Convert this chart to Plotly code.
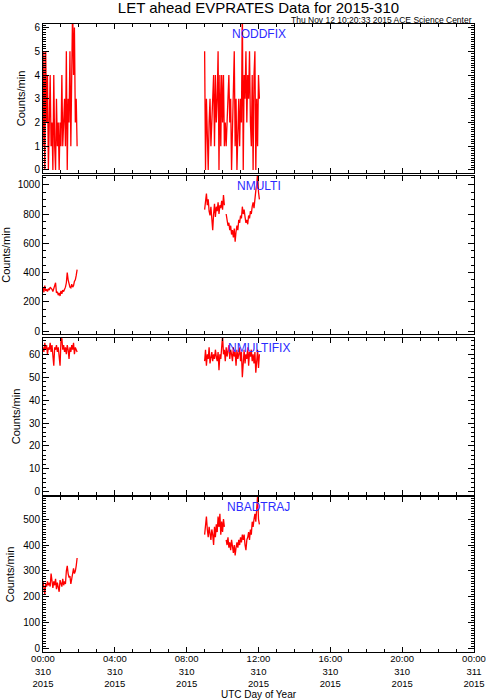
"""LET ahead EVPRATES, jour 2015-310 : quatre panneaux de taux (Counts/min)."""

import pandas as pd
import plotly.graph_objects as go

# ---------------------------------------------------------------------------
# Données (lues sur la figure, pas de 3 minutes)
# ---------------------------------------------------------------------------

SEG1_START = "2015-11-06 00:00"   # jour 310
SEG2_START = "2015-11-06 09:00"
STEP = "3min"

NODDFIX_1 = [1, 5, 0, 5, 2, 4, 0, 3, 4, 1, 2, 0, 4, 1, 0, 3, 1, 2, 0, 2,
             1, 4, 1, 2, 3, 1, 5, 0, 3, 2, 5, 1, 4, 7, 4, 6, 2, 3, 1]
NODDFIX_2 = [5, 0, 3, 1, 0, 2, 3, 1, 2, 3, 4, 1, 4, 2, 3, 5, 0, 4, 1, 4,
             2, 4, 1, 2, 1, 2, 3, 4, 2, 3, 0, 2, 3, 5, 1, 3, 0, 2, 3, 1,
             3, 2, 7, 0, 4, 3, 5, 2, 4, 3, 5, 2, 1, 4, 0, 4, 5, 0, 3, 1,
             4, 3]

NMULTI_1 = [300, 265, 310, 275, 285, 270, 290, 280, 300, 295, 285, 270, 290,
            300, 330, 260, 270, 245, 260, 240, 275, 255, 280, 270, 285, 300,
            330, 400, 350, 310, 300, 295, 320, 300, 310, 340, 350, 380, 420]
NMULTI_2 = [830, 880, 940, 860, 900, 820, 790, 850, 760, 690, 800, 870, 780,
            850, 820, 880, 800, 860, 840, 890, 830, 930, 860, None, 800, 760,
            720, 740, 690, 720, 660, 690, 640, 700, 610, 680, 720, 690, 760,
            740, 790, 770, 850, 800, 830, 780, 740, 760, 730, 790, 770, 820,
            800, 850, 880, 840, 920, 960, 1000, 1080, 950, 900]

NMULTIFIX_1 = [63, 61, 65, 62, 64, 60, 63, 62, 65, 61, 64, 58, 55, 63, 62,
               64, 61, 63, 60, 55, 66, 67, 62, 64, 61, 63, 60, 64, 62, 58,
               63, 61, 64, 62, 65, 60, 63, 62, 61]
NMULTIFIX_2 = [57, 62, 55, 60, 58, 63, 56, 59, 61, 57, 60, 58, 62, 59, 57,
               61, 53, 60, 58, 63, 68, 60, 62, 57, 63, 59, 61, 64, 58, 62,
               60, 57, 63, 59, 61, 55, 62, 58, 60, 63, 57, 61, 50, 59, 62,
               56, 60, 58, 63, 55, 61, 59, 62, 57, 60, 56, 61, 52, 59, 62,
               54, 60]

NBADTRAJ_1 = [260, 230, 210, 250, 240, 260, 245, 255, 240, 290, 250, 235,
              260, 245, 270, 230, 255, 240, 220, 265, 250, 240, 270, 245,
              260, 250, 300, 320, 290, 275, 280, 250, 270, 295, 310, 290,
              300, 320, 350]
NBADTRAJ_2 = [440, 480, 510, 460, 430, 470, 450, 420, 460, 440, 400, 470,
              430, 480, 450, 510, 470, 520, 440, 490, 450, 500, 470, None,
              420, 400, 430, 390, 410, 380, 420, 390, 370, 400, 360, 390,
              410, 390, 420, 400, 430, 410, 440, 420, 440, 400, 380, 420,
              430, 450, 420, 460, 440, 490, 470, 500, 520, 490, 550, 590,
              500, 480]

PANELS = ["NODDFIX", "NMULTI", "NMULTIFIX", "NBADTRAJ"]
SERIES = [
    (NODDFIX_1, NODDFIX_2),
    (NMULTI_1, NMULTI_2),
    (NMULTIFIX_1, NMULTIFIX_2),
    (NBADTRAJ_1, NBADTRAJ_2),
]

TICK_TIMES = ["2015-11-06 00:00", "2015-11-06 04:00", "2015-11-06 08:00",
              "2015-11-06 12:00", "2015-11-06 16:00", "2015-11-06 20:00",
              "2015-11-07 00:00"]
TICK_LABELS = ["00:00<br>310<br>2015", "04:00<br>310<br>2015",
               "08:00<br>310<br>2015", "12:00<br>310<br>2015",
               "16:00<br>310<br>2015", "20:00<br>310<br>2015",
               "00:00<br>311<br>2015"]

# Mise en page (pixels -> fractions)
Y_RANGES = [[-0.13, 6.15], [-20, 1060], [-1.4, 67.1], [-12, 585]]
Y_DTICK = [1, 200, 10, 100]
Y_MINOR = [0.1, 50, 2, 10]
DOMAINS = [[0.7627, 1.0], [0.5064, 0.7580], [0.25, 0.5], [0.0, 0.2468]]

FONT = "Liberation Sans, Arial, sans-serif"


def main() -> None:
    fig = go.Figure()
    t1 = pd.date_range(SEG1_START, periods=len(NODDFIX_1), freq=STEP)
    t2 = pd.date_range(SEG2_START, periods=len(NODDFIX_2), freq=STEP)
    x = list(t1) + [None] + list(t2)

    for i, (s1, s2) in enumerate(SERIES):
        suffix = "" if i == 0 else str(i + 1)
        fig.add_trace(go.Scatter(
            x=x,
            y=list(s1) + [None] + list(s2),
            mode="lines",
            line=dict(color="#ff0000", width=1.3),
            connectgaps=False,
            xaxis="x" + suffix,
            yaxis="y" + suffix,
            showlegend=False,
            hoverinfo="skip",
        ))

        axis_common = dict(
            showline=True, linewidth=1, linecolor="black",
            mirror="allticks", ticks="inside", tickcolor="black",
            showgrid=False, zeroline=False, automargin=False,
        )
        fig.layout["xaxis" + suffix] = dict(
            **axis_common,
            type="date",
            range=[TICK_TIMES[0], TICK_TIMES[-1]],
            tickvals=TICK_TIMES,
            ticktext=TICK_LABELS,
            ticklen=5,
            tickfont=dict(family=FONT, size=9.5, color="black"),
            ticklabelstandoff=-2,
            minor=dict(ticks="inside", ticklen=3, dtick=3600000,
                       tickcolor="black"),
            showticklabels=(i == 3),
            anchor="y" + suffix,
            matches=None if i == 0 else "x",
            domain=[0, 1],
        )
        fig.layout["yaxis" + suffix] = dict(
            **axis_common,
            range=Y_RANGES[i],
            dtick=Y_DTICK[i],
            tick0=0,
            ticklen=6,
            tickfont=dict(family=FONT, size=10, color="black"),
            minor=dict(ticks="inside", ticklen=3, dtick=Y_MINOR[i],
                       tickcolor="black"),
            title=dict(text="Counts/min",
                       font=dict(family=FONT, size=11, color="black"),
                       standoff=6),
            anchor="x" + suffix,
            domain=DOMAINS[i],
        )

        # Nom du canal, en bleu, centré sur 12:00
        fig.add_annotation(
            text=PANELS[i],
            x=TICK_TIMES[3], xref="x" + suffix,
            y=0.935, yref=f"y{suffix} domain", yanchor="middle",
            showarrow=False,
            font=dict(family=FONT, size=12, color="#2b2bff"),
        )

    fig.add_annotation(
        text="Thu Nov 12 10:20:33 2015 ACE Science Center",
        x=1, xref="paper", xanchor="right",
        y=1.0064, yref="paper", yanchor="middle",
        showarrow=False,
        font=dict(family=FONT, size=8.5, color="black"),
    )
    fig.add_annotation(
        text="UTC Day of Year",
        x=0.5, xref="paper", xanchor="center",
        y=-0.068, yref="paper", yanchor="middle",
        showarrow=False,
        font=dict(family=FONT, size=10, color="black"),
    )

    fig.update_layout(
        title=dict(
            text="LET ahead EVPRATES Data for 2015-310",
            font=dict(family=FONT, size=15, color="black"),
            x=0.5, xref="paper", xanchor="center",
            y=1 - 7.5 / 700, yref="container", yanchor="middle",
        ),
        width=488, height=700,
        margin=dict(l=43, r=14, t=24, b=48, autoexpand=False),
        plot_bgcolor="white", paper_bgcolor="white",
        showlegend=False,
    )

    # La marge par défaut du <body> décale la figure de 8 px
    fig.write_html(
        "out.html",
        config={"displayModeBar": False},
        post_script="document.body.style.margin='0';",
    )


if __name__ == "__main__":
    main()
